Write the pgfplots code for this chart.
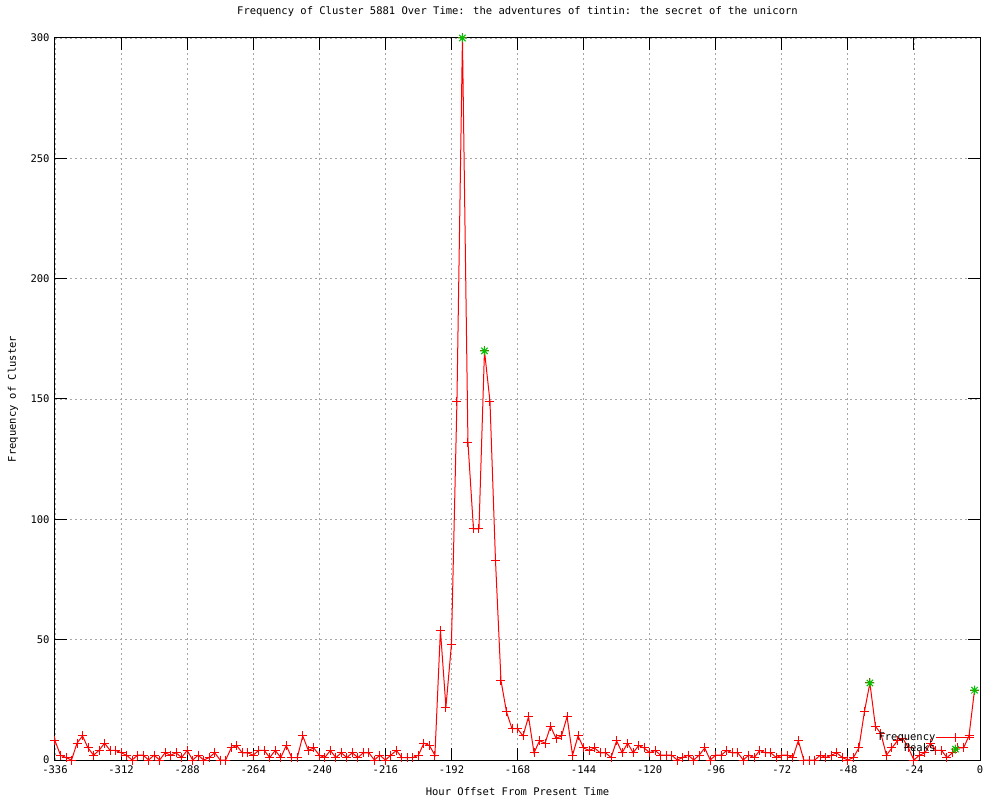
\documentclass[border=0pt]{standalone}
\usepackage{fontspec}
\setmainfont{DejaVu Sans Mono}
\usepackage{pgfplots}
\pgfplotsset{compat=1.18}
\usepackage{pgfplotstable}

\definecolor{gpred}{RGB}{255,0,0}
\definecolor{gpgreen}{RGB}{0,192,0}

\pgfdeclareplotmark{gstar}{%
 \pgfpathmoveto{\pgfqpoint{-\pgfplotmarksize}{0pt}}\pgfpathlineto{\pgfqpoint{\pgfplotmarksize}{0pt}}%
 \pgfpathmoveto{\pgfqpoint{0pt}{-\pgfplotmarksize}}\pgfpathlineto{\pgfqpoint{0pt}{\pgfplotmarksize}}%
 \pgfpathmoveto{\pgfqpoint{-0.707\pgfplotmarksize}{-0.707\pgfplotmarksize}}\pgfpathlineto{\pgfqpoint{0.707\pgfplotmarksize}{0.707\pgfplotmarksize}}%
 \pgfpathmoveto{\pgfqpoint{-0.707\pgfplotmarksize}{0.707\pgfplotmarksize}}\pgfpathlineto{\pgfqpoint{0.707\pgfplotmarksize}{-0.707\pgfplotmarksize}}%
 \pgfusepathqstroke}

\pgfplotsset{legend image code/.code={\draw[mark repeat=2,mark phase=2,#1] plot coordinates {(0pt,0pt) (19pt,0pt) (38pt,0pt)};}}

\pgfplotstableread{
h v
-336 8
-334 2
-332 1
-330 0
-328 7
-326 10
-324 5
-322 2
-320 4
-318 7
-316 4
-314 4
-312 3
-310 2
-308 0
-306 2
-304 2
-302 0
-300 2
-298 0
-296 3
-294 2
-292 3
-290 1
-288 4
-286 0
-284 2
-282 0
-280 1
-278 3
-276 0
-274 0
-272 5
-270 6
-268 3
-266 3
-264 2
-262 4
-260 4
-258 1
-256 4
-254 1
-252 6
-250 1
-248 1
-246 10
-244 4
-242 5
-240 2
-238 1
-236 4
-234 1
-232 3
-230 1
-228 3
-226 1
-224 3
-222 3
-220 0
-218 2
-216 0
-214 2
-212 4
-210 1
-208 1
-206 1
-204 2
-202 7
-200 6
-198 2
-196 54
-194 22
-192 48
-190 149
-188 300
-186 132
-184 96
-182 96
-180 170
-178 149
-176 83
-174 33
-172 20
-170 13
-168 13
-166 10
-164 18
-162 3
-160 8
-158 7
-156 14
-154 9
-152 10
-150 18
-148 2
-146 10
-144 5
-142 4
-140 5
-138 3
-136 3
-134 1
-132 8
-130 3
-128 7
-126 3
-124 6
-122 5
-120 3
-118 4
-116 2
-114 2
-112 2
-110 0
-108 1
-106 2
-104 0
-102 2
-100 5
-98 0
-96 2
-94 2
-92 4
-90 3
-88 3
-86 0
-84 2
-82 1
-80 4
-78 3
-76 3
-74 1
-72 2
-70 2
-68 1
-66 8
-64 0
-62 0
-60 0
-58 2
-56 1
-54 2
-52 3
-50 1
-48 0
-46 1
-44 5
-42 20
-40 32
-38 14
-36 11
-34 2
-32 5
-30 8
-28 9
-26 5
-24 0
-22 2
-20 3
-18 7
-16 4
-14 4
-12 1
-10 3
-8 5
-6 5
-4 10
-2 29
}\freqdata

\pgfplotstableread{
h v
-188 300
-180 170
-40 32
-2 29
}\peakdata

\begin{document}
\begin{tikzpicture}
\begin{axis}[
  scale only axis,
  width=925pt, height=722pt,
  xmin=-336, xmax=0, ymin=0, ymax=300,
  xtick={-336,-312,...,0},
  ytick={0,50,...,300},
  clip=false,
  axis line style={black, line width=1pt},
  tick style={black, line width=1pt},
  major tick length=12pt,
  tick align=inside,
  grid=major,
  major grid style={gray!70, line width=0.8pt, dash pattern=on 2pt off 3pt},
  /pgf/number format/assume math mode=true,
  tick label style={font=\fontsize{10.5pt}{12pt}\selectfont, black},
  xticklabel style={yshift=-2pt},
  yticklabel style={xshift=-2pt},
  title={Frequency of Cluster 5881 Over Time: the adventures of tintin: the secret of the unicorn},
  title style={at={(0.5,1)}, anchor=center, yshift=20pt, font=\fontsize{10.5pt}{12pt}\selectfont},
  xlabel={Hour Offset From Present Time},
  xlabel style={at={(0.5,0)}, anchor=center, yshift=-32pt, font=\fontsize{10.5pt}{12pt}\selectfont},
  ylabel={Frequency of Cluster},
  ylabel style={at={(0,0.5)}, anchor=center, rotate=0, yshift=42pt, font=\fontsize{10.5pt}{12pt}\selectfont},
  legend plot pos=right,
  legend cell align=right,
  legend style={at={(0.998,0.004)}, anchor=south east, fill=none, draw=none,
    font=\fontsize{10.5pt}{12pt}\selectfont,
    nodes={inner sep=0.5pt, text height=8pt, text depth=2.5pt}},
]
\coordinate (SW) at (rel axis cs:0,0);
\coordinate (NE) at (rel axis cs:1,1);
\addplot[color=gpred, line width=1pt, mark=+, mark size=4.5pt, mark options={line width=1pt}, forget plot] table[x=h, y=v] {\freqdata};
\addplot[color=gpgreen, only marks, mark=gstar, mark size=4.5pt, mark options={line width=1pt}, forget plot] table[x=h, y=v] {\peakdata};
\addlegendimage{draw=gpred, color=gpred, line width=1pt, mark=+, mark size=4.5pt, mark options={draw=gpred, line width=1pt}}
\addlegendentry{Frequency}
\addlegendimage{color=gpgreen, only marks, mark=gstar, mark size=4.5pt, mark options={line width=1pt}}
\addlegendentry{Peaks}
\end{axis}
\pgfresetboundingbox
\path ([shift={(-55pt,-40pt)}]SW) rectangle ([shift={(20pt,38pt)}]NE);
\end{tikzpicture}
\end{document}
